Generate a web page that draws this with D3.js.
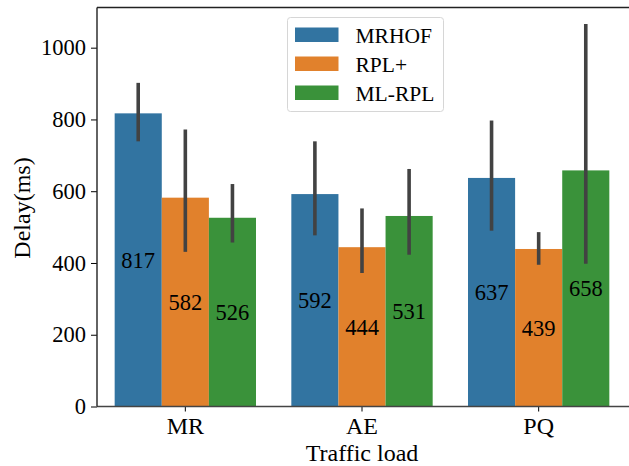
<!DOCTYPE html>
<html>
<head>
<meta charset="utf-8">
<script src="https://cdn.jsdelivr.net/npm/d3@7"></script>
<style>
  body { margin: 0; background: #fff; }
  svg text { fill: #000; }
</style>
</head>
<body>
<svg></svg>
<script>
const loads = ["MR", "AE", "PQ"];
const protocols = ["MRHOF", "RPL+", "ML-RPL"];
const colors = ["#3274a1", "#e1812c", "#3a923a"];
// mean delay per protocol, one entry per traffic load
const mrhof = [817, 592, 637];
const rplPlus = [582, 444, 439];
const mlRpl = [526, 531, 658];
// error bar low/high per protocol
const mrhofErr = [[739, 902], [477, 739], [490, 797]];
const rplPlusErr = [[431, 772], [372, 552], [395, 486]];
const mlRplErr = [[457, 620], [423, 662], [398, 1066]];
const yTicks = [0, 200, 400, 600, 800, 1000];

const width = 629, height = 466;
const margin = {left: 97, right: 2, top: 7.5, bottom: 59.5};
const serif = "Liberation Serif";
const numSize = 22.5;
const wordSize = 24;

const svg = d3.select("svg")
    .attr("width", width)
    .attr("height", height);

const x0 = d3.scaleBand()
    .domain(loads)
    .range([margin.left, width - margin.right])
    .paddingInner(0.2)
    .paddingOuter(0.1);

const x1 = d3.scaleBand()
    .domain(protocols)
    .range([0, x0.bandwidth()]);

const y = d3.scaleLinear()
    .domain([0, 1112])
    .range([height - margin.bottom, margin.top]);

const series = [
    {name: "MRHOF", values: mrhof, err: mrhofErr},
    {name: "RPL+", values: rplPlus, err: rplPlusErr},
    {name: "ML-RPL", values: mlRpl, err: mlRplErr}
];

const rows = [];
series.forEach((s, si) => {
    loads.forEach((l, li) => {
        rows.push({load: l, proto: s.name, color: colors[si], v: s.values[li], lo: s.err[li][0], hi: s.err[li][1]});
    });
});

// bars
svg.append("g").selectAll("rect")
    .data(rows)
    .enter().append("rect")
    .attr("x", d => x0(d.load) + x1(d.proto))
    .attr("y", d => y(d.v))
    .attr("width", x1.bandwidth())
    .attr("height", d => y(0) - y(d.v))
    .attr("fill", d => d.color);

// error bars
svg.append("g").selectAll("line")
    .data(rows)
    .enter().append("line")
    .attr("x1", d => x0(d.load) + x1(d.proto) + x1.bandwidth() / 2)
    .attr("x2", d => x0(d.load) + x1(d.proto) + x1.bandwidth() / 2)
    .attr("y1", d => y(d.lo))
    .attr("y2", d => y(d.hi))
    .attr("stroke", "#424242")
    .attr("stroke-width", 3.6);

// value labels in middle of bar
svg.append("g").selectAll("text")
    .data(rows)
    .enter().append("text")
    .attr("x", d => x0(d.load) + x1(d.proto) + x1.bandwidth() / 2)
    .attr("y", d => y(d.v / 2))
    .attr("dy", "0.35em")
    .attr("text-anchor", "middle")
    .attr("font-family", serif)
    .attr("font-size", numSize)
    .text(d => d.v);

// axes
const yAxis = svg.append("g")
    .attr("transform", `translate(${margin.left},0)`)
    .call(d3.axisLeft(y).tickValues(yTicks).tickFormat(d3.format("d")).tickSize(6).tickPadding(5));
yAxis.attr("font-family", serif).attr("font-size", numSize);
yAxis.select(".domain").remove();
yAxis.selectAll("line").attr("stroke", "#000").attr("stroke-width", 1);

const xAxis = svg.append("g")
    .attr("transform", `translate(0,${y(0)})`)
    .call(d3.axisBottom(x0).tickSize(5).tickPadding(5));
xAxis.attr("font-family", serif).attr("font-size", wordSize);
xAxis.select(".domain").remove();
xAxis.selectAll("line").attr("stroke", "#000").attr("stroke-width", 1);

// spines
svg.append("line")
    .attr("x1", margin.left).attr("x2", width)
    .attr("y1", y(0)).attr("y2", y(0))
    .attr("stroke", "#444").attr("stroke-width", 1.6);
svg.append("line")
    .attr("x1", margin.left).attr("x2", width)
    .attr("y1", margin.top).attr("y2", margin.top)
    .attr("stroke", "#222").attr("stroke-width", 1.4);
svg.append("line")
    .attr("x1", margin.left).attr("x2", margin.left)
    .attr("y1", margin.top).attr("y2", y(0))
    .attr("stroke", "#222").attr("stroke-width", 1.4);

// axis titles
svg.append("text")
    .attr("x", x0("AE") + x0.bandwidth() / 2)
    .attr("y", 461)
    .attr("text-anchor", "middle")
    .attr("font-family", serif)
    .attr("font-size", wordSize)
    .text("Traffic load");

svg.append("text")
    .attr("transform", "translate(30,208) rotate(-90)")
    .attr("text-anchor", "middle")
    .attr("font-family", serif)
    .attr("font-size", wordSize)
    .text("Delay(ms)");

// legend
const legend = svg.append("g").attr("transform", "translate(287.5,17.5)");
legend.append("rect")
    .attr("width", 156).attr("height", 94).attr("rx", 3)
    .attr("fill", "#fff").attr("fill-opacity", 0.8)
    .attr("stroke", "#d6d6d6").attr("stroke-width", 1);
protocols.forEach((p, i) => {
    legend.append("rect")
        .attr("x", 7.5).attr("y", 10 + i * 29)
        .attr("width", 43.5).attr("height", 14.5)
        .attr("fill", colors[i]);
    legend.append("text")
        .attr("x", 68).attr("y", 17.5 + i * 29)
        .attr("dy", "0.35em")
        .attr("font-family", serif)
        .attr("font-size", 21.5)
        .text(p);
});
</script>
</body>
</html>
